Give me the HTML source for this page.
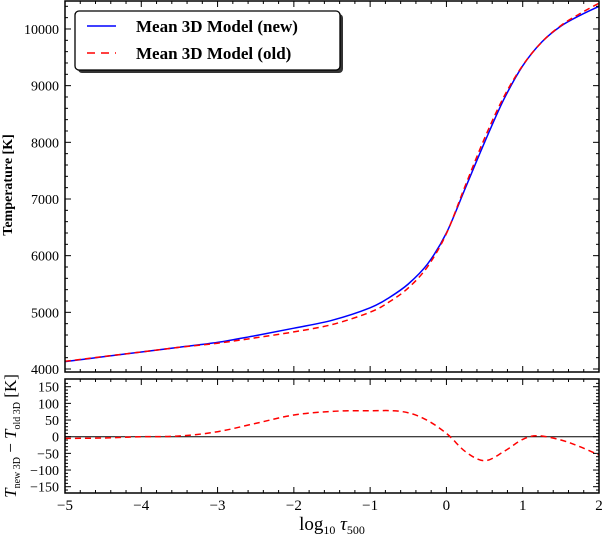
<!DOCTYPE html>
<html><head><meta charset="utf-8"><style>
body{margin:0;background:#fff;font-family:"Liberation Serif",serif}
svg{display:block}
text{font-family:"Liberation Serif",serif;fill:#000}
</style></head><body>
<svg id="chart" width="603" height="537"></svg>
<script>
const logTau = [-5,-4.5,-4,-3.5,-3,-2.5,-2,-1.5,-1,-0.75,-0.5,-0.25,0,0.25,0.5,0.75,1,1.25,1.5,1.75,2];
const tempNew = [4130,4215,4300,4385,4470,4590,4720,4860,5080,5260,5500,5850,6400,7200,8000,8750,9350,9770,10050,10240,10400];
const diffLogTau = [-5,-4.5,-4,-3.5,-3,-2.5,-2,-1.5,-1,-0.6,-0.3,0,0.25,0.5,0.75,1,1.2,1.5,1.75,2];
const diffVals = [-5,-4,0,2,15,40,65,76,78,76,55,10,-45,-72,-45,-8,3,-10,-30,-55];
const xTicks = [-5,-4,-3,-2,-1,0,1,2];
const topYTicks = [4000,5000,6000,7000,8000,9000,10000];
const botYTicks = [-150,-100,-50,0,50,100,150];

const NS="http://www.w3.org/2000/svg";
const svg=document.getElementById('chart');
function el(tag,attrs,parent){const e=document.createElementNS(NS,tag);for(const k in attrs)e.setAttribute(k,attrs[k]);(parent||svg).appendChild(e);return e;}
const L=65,R=599;
const xs=v=>L+(v+5)/7*(R-L);
const T0=1,T1=372,B0=379,B1=493;
const ysTop=v=>369-(v-4000)/1000*56.67;
const ysBot=v=>436.7-v/100*33.33;
function interp(xa,ya,x){for(let i=0;i<xa.length-1;i++){if(x<=xa[i+1]){const t=(x-xa[i])/(xa[i+1]-xa[i]);return ya[i]+t*(ya[i+1]-ya[i]);}}return ya[ya.length-1];}
const tempOld=logTau.map((x,i)=>tempNew[i]-interp(diffLogTau,diffVals,x));
function pathOf(xa,ya,sy){
 const P=xa.map((x,i)=>[xs(x),sy(ya[i])]);
 let d='M'+P[0][0].toFixed(1)+','+P[0][1].toFixed(1);
 for(let i=0;i<P.length-1;i++){
  const p0=P[Math.max(0,i-1)],p1=P[i],p2=P[i+1],p3=P[Math.min(P.length-1,i+2)];
  const c1=[p1[0]+(p2[0]-p0[0])/6,p1[1]+(p2[1]-p0[1])/6];
  const c2=[p2[0]-(p3[0]-p1[0])/6,p2[1]-(p3[1]-p1[1])/6];
  d+='C'+c1.map(v=>v.toFixed(1))+' '+c2.map(v=>v.toFixed(1))+' '+p2.map(v=>v.toFixed(1));
 }
 return d;}

const defs=el('defs',{});
const c1=el('clipPath',{id:'ct'},defs);el('rect',{x:L,y:T0,width:R-L,height:T1-T0},c1);
const c2=el('clipPath',{id:'cb'},defs);el('rect',{x:L,y:B0,width:R-L,height:B1-B0},c2);

let p=el('path',{d:pathOf(logTau,tempNew,ysTop),fill:'none',stroke:'#0000ff','stroke-width':1.5,'clip-path':'url(#ct)'});

p=el('path',{d:pathOf(logTau,tempOld,ysTop),fill:'none',stroke:'#ff0000','stroke-width':1.5,'stroke-dasharray':'6,4','clip-path':'url(#ct)'});

p=el('line',{x1:L,x2:R,y1:ysBot(0),y2:ysBot(0),stroke:'#000','stroke-width':1});

p=el('path',{d:pathOf(diffLogTau,diffVals,ysBot),fill:'none',stroke:'#ff0000','stroke-width':1.5,'stroke-dasharray':'6,4','clip-path':'url(#cb)'});


for(const [y0,y1,nm] of [[T0,T1,'top-panel-frame'],[B0,B1,'bottom-panel-frame']]){
 const f=el('rect',{x:L,y:y0,width:R-L,height:y1-y0,fill:'none',stroke:'#000','stroke-width':1.5});
 
}
for(const [y0,y1] of [[T0,T1],[B0,B1]]){
 for(let v=-5;v<=2.001;v+=0.2){const x=xs(v);const major=Math.abs(v-Math.round(v))<1e-6;const len=major?6:3;
  el('line',{x1:x,x2:x,y1:y0,y2:y0+len,stroke:'#000'});el('line',{x1:x,x2:x,y1:y1,y2:y1-len,stroke:'#000'});}
}
xTicks.forEach(v=>{const t=el('text',{x:xs(v),y:510,'font-size':15,'text-anchor':'middle'});t.textContent=(v<0?'\u2212':'')+Math.abs(v);
 });
for(let v=4000;v<=10500;v+=200){const y=ysTop(v);if(y<T0||y>T1)continue;const len=v%1000===0?6:3;
 el('line',{x1:L,x2:L+len,y1:y,y2:y,stroke:'#000'});el('line',{x1:R,x2:R-len,y1:y,y2:y,stroke:'#000'});}
topYTicks.forEach(v=>{const t=el('text',{x:59,y:ysTop(v)+5,'font-size':14,'text-anchor':'end'});t.textContent=v;
 });
for(let v=-160;v<=160;v+=10){const y=ysBot(v);const len=v%50===0?6:3;
 el('line',{x1:L,x2:L+len,y1:y,y2:y,stroke:'#000'});el('line',{x1:R,x2:R-len,y1:y,y2:y,stroke:'#000'});}
botYTicks.forEach(v=>{const t=el('text',{x:59,y:ysBot(v)+5,'font-size':14,'text-anchor':'end'});t.textContent=(v<0?'\u2212':'')+Math.abs(v);
 });
</script>
<svg width="603" height="537" style="position:absolute;left:0;top:0">
 <text x="12" y="185" font-size="14" font-weight="bold" transform="rotate(-90 12 185)" text-anchor="middle">Temperature [K]</text>
 <text x="16" y="436" font-size="17" transform="rotate(-90 16 436)" text-anchor="middle"><tspan font-style="italic">T</tspan><tspan font-size="10" dy="4">new 3D</tspan><tspan dy="-4"> − </tspan><tspan font-style="italic">T</tspan><tspan font-size="10" dy="4">old 3D</tspan><tspan dy="-4"> [K]</tspan></text>
 <text x="332" y="530" font-size="19" text-anchor="middle">log<tspan font-size="12" dy="4">10</tspan><tspan dy="-4" font-style="italic"> τ</tspan><tspan font-size="12" dy="4">500</tspan></text>
 <g>
  <rect x="78" y="14" width="265" height="59" rx="4" fill="#333"/>
  <rect x="75" y="11" width="265" height="59" rx="4" fill="#fff" stroke="#000" stroke-width="1.3"/>
  <line x1="87" y1="26" x2="116" y2="26" stroke="#0000ff" stroke-width="1.5"/>
  <text x="136" y="32" font-size="17" font-weight="bold">Mean 3D Model (new)</text>
  <line x1="87" y1="53" x2="116" y2="53" stroke="#ff0000" stroke-width="1.5" stroke-dasharray="8,6"/>
  <text x="136" y="59" font-size="17" font-weight="bold">Mean 3D Model (old)</text>
 </g>
</svg>
</body></html>
